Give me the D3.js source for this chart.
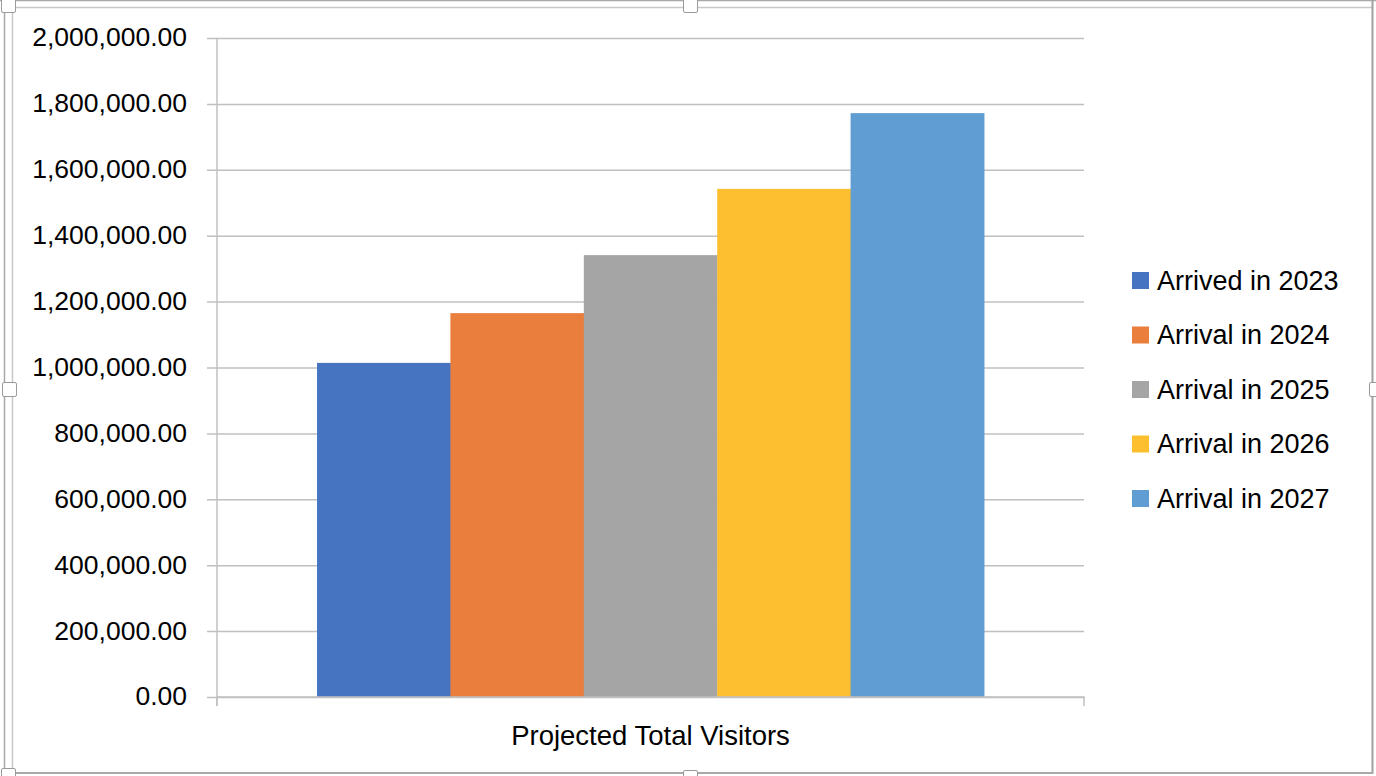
<!DOCTYPE html>
<html>
<head>
<meta charset="utf-8">
<script src="https://cdn.jsdelivr.net/npm/d3@7"></script>
<style>
  body { margin: 0; background: #fff; }
  text { font-family: "Liberation Sans", Arial, sans-serif; fill: #000; }
</style>
</head>
<body>
<div id="chart-area"></div>
<script>
// data
const category = ["Projected Total Visitors"]
const seriesNames = ["Arrived in 2023", "Arrival in 2024", "Arrival in 2025", "Arrival in 2026", "Arrival in 2027"]
const seriesValues = [1014000, 1165000, 1341000, 1542000, 1772000]
const seriesColors = ["#4674C1", "#E97E3D", "#A5A5A5", "#FDBF2F", "#5F9DD3"]
const yTicks = [0, 200000, 400000, 600000, 800000, 1000000, 1200000, 1400000, 1600000, 1800000, 2000000]

const W = 1376, H = 776
const PLOT = { LEFT: 217, RIGHT: 1084, TOP: 38, BOTTOM: 697 }

const svg = d3.select("#chart-area")
  .append("svg")
  .attr("width", W)
  .attr("height", H)

// frame of the selected chart object
const frame = svg.append("g").attr("fill", "none")
frame.append("line").attr("x1", 0).attr("x2", W).attr("y1", 0.5).attr("y2", 0.5).attr("stroke", "#a9a9a9").attr("stroke-width", 1.5)
frame.append("line").attr("x1", 12).attr("x2", 1373).attr("y1", 7.5).attr("y2", 7.5).attr("stroke", "#c8c8c8").attr("stroke-width", 1.5)
frame.append("line").attr("x1", 4.5).attr("x2", 4.5).attr("y1", 0).attr("y2", H).attr("stroke", "#a9a9a9").attr("stroke-width", 1.5)
frame.append("line").attr("x1", 12.5).attr("x2", 12.5).attr("y1", 7).attr("y2", 773).attr("stroke", "#c8c8c8").attr("stroke-width", 1.5)
frame.append("line").attr("x1", 1372.5).attr("x2", 1372.5).attr("y1", 0).attr("y2", 774).attr("stroke", "#a0a0a0").attr("stroke-width", 2)
frame.append("line").attr("x1", 4).attr("x2", 1373).attr("y1", 773).attr("y2", 773).attr("stroke", "#a9a9a9").attr("stroke-width", 2)

const handles = [[1, -2], [683, -2], [2, 382], [1369, 382], [683, 770], [1, 768]]
frame.selectAll("rect.handle").data(handles).enter().append("rect")
  .attr("class", "handle")
  .attr("x", d => d[0] + 0.5).attr("y", d => d[1] + 0.5)
  .attr("width", 14).attr("height", 14)
  .attr("rx", 1.5)
  .attr("fill", "#fff")
  .attr("stroke", "#9a9a9a")
  .attr("stroke-width", 1)

// scales
const y = d3.scaleLinear()
  .domain([0, 2000000])
  .range([PLOT.BOTTOM, PLOT.TOP])

const x0 = d3.scaleBand()
  .domain(category)
  .range([PLOT.LEFT, PLOT.RIGHT])
  .paddingInner(0)
  .paddingOuter(0.15)

const x1 = d3.scaleBand()
  .domain(seriesNames)
  .range([0, x0.bandwidth()])

// gridlines + y labels
const yAxisCall = d3.axisLeft(y)
  .tickValues(yTicks)
  .tickSize(-(PLOT.RIGHT - PLOT.LEFT))
  .tickPadding(20)
  .tickFormat(d3.format(",.2f"))

const yAxisGroup = svg.append("g")
  .attr("transform", `translate(${PLOT.LEFT},0)`)
  .call(yAxisCall)
yAxisGroup.select(".domain").remove()
yAxisGroup.selectAll(".tick line")
  .attr("x1", -10)
  .attr("stroke", "#c0c0c0")
  .attr("stroke-width", 1.5)
yAxisGroup.selectAll(".tick text")
  .attr("font-family", "Liberation Sans, Arial, sans-serif")
  .attr("font-size", "26.5px")
  .attr("fill", "#000")
  .attr("x", -30)
  .attr("dy", "0.3em")

// vertical axis line
svg.append("line")
  .attr("x1", PLOT.LEFT).attr("x2", PLOT.LEFT)
  .attr("y1", PLOT.TOP).attr("y2", PLOT.BOTTOM + 9)
  .attr("stroke", "#c0c0c0").attr("stroke-width", 1.5)

// bars
const data = seriesNames.map((name, i) => ({ name, value: seriesValues[i], color: seriesColors[i] }))
const bars = svg.append("g")
  .attr("transform", `translate(${x0(category[0])},0)`)
bars.selectAll("rect").data(data).enter().append("rect")
  .attr("x", d => x1(d.name))
  .attr("y", d => y(d.value))
  .attr("width", x1.bandwidth() + 0.5)
  .attr("height", d => y(0) - y(d.value))
  .attr("fill", d => d.color)

// x axis
const xAxisCall = d3.axisBottom(x0).tickSize(0).tickPadding(28)
const xAxisGroup = svg.append("g")
  .attr("transform", `translate(0,${PLOT.BOTTOM})`)
  .call(xAxisCall)
xAxisGroup.select(".domain")
  .attr("d", `M${PLOT.LEFT},9V0H${PLOT.RIGHT}V9`)
  .attr("stroke", "#c0c0c0").attr("stroke-width", 1.5).attr("fill", "none")
xAxisGroup.selectAll(".tick text")
  .attr("font-family", "Liberation Sans, Arial, sans-serif")
  .attr("font-size", "27.5px")
  .attr("fill", "#000")

// legend
const legend = svg.append("g").attr("transform", "translate(1132,272)")
const legendRow = legend.selectAll("g").data(data).enter().append("g")
  .attr("transform", (d, i) => `translate(0,${i * 54.5})`)
legendRow.append("rect")
  .attr("width", 17).attr("height", 17)
  .attr("fill", d => d.color)
legendRow.append("text")
  .attr("x", 25)
  .attr("y", 8.5)
  .attr("dy", "0.34em")
  .attr("font-size", "27px")
  .text(d => d.name)
</script>
</body>
</html>
